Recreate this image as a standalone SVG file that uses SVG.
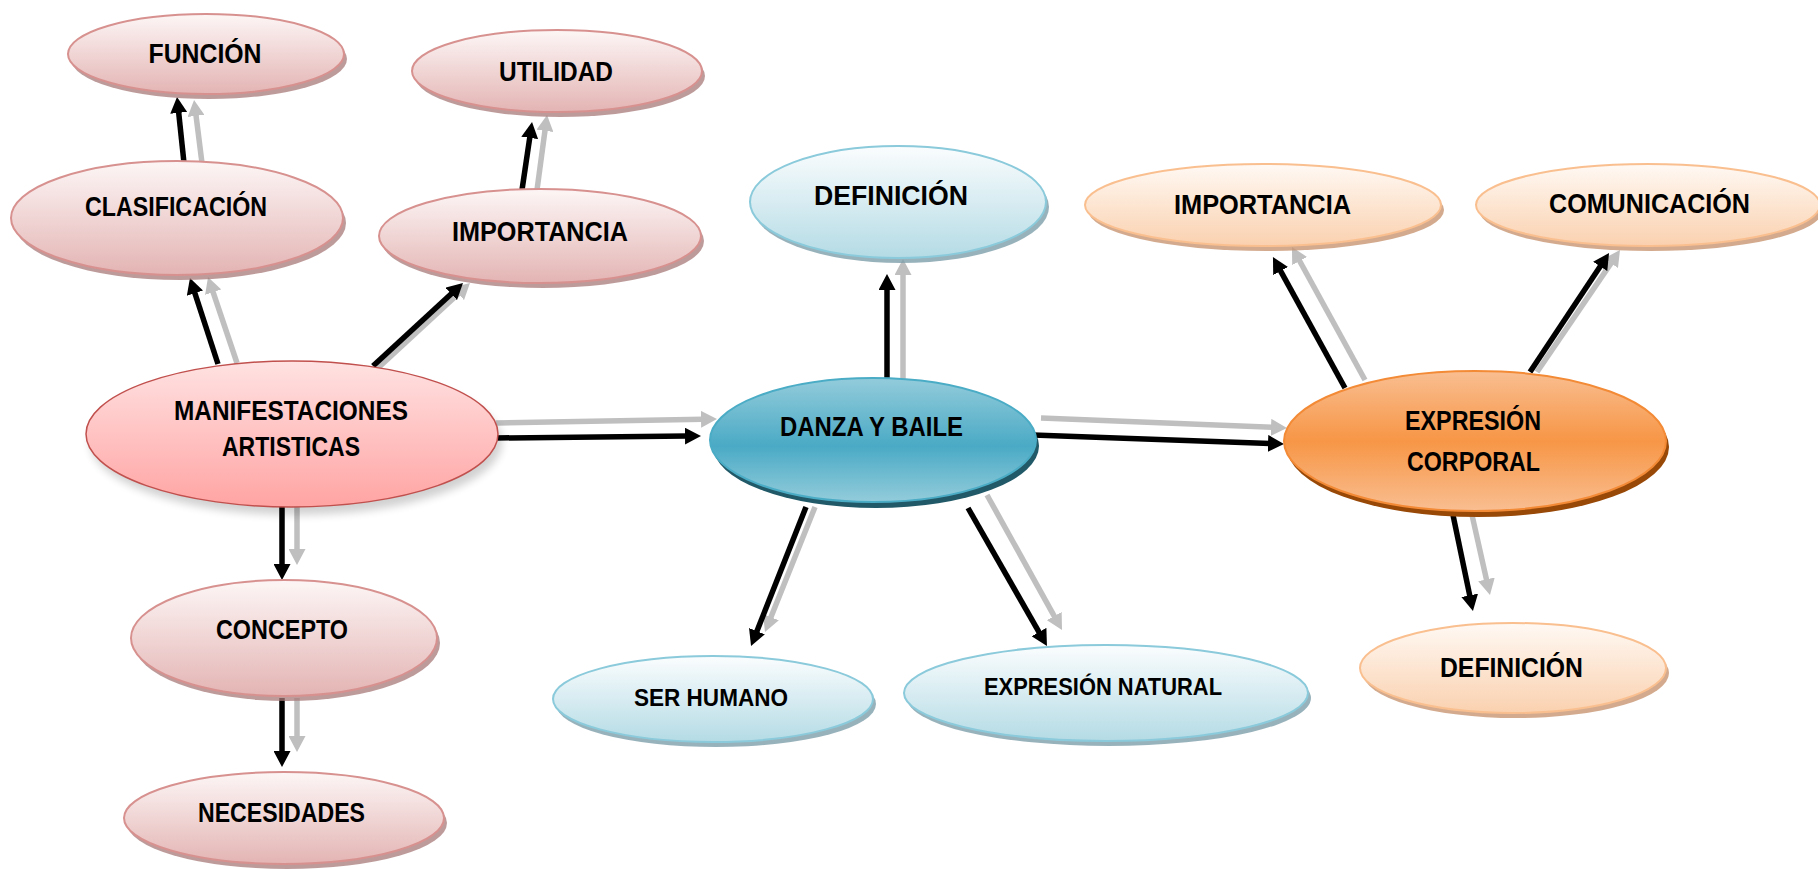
<svg xmlns="http://www.w3.org/2000/svg" width="1818" height="869" viewBox="0 0 1818 869">
<defs>
<linearGradient id="gPinkL" x1="0" y1="0" x2="0" y2="1"><stop offset="0" stop-color="#FDF6F6"/><stop offset="1" stop-color="#E3B4B3"/></linearGradient>
<linearGradient id="gPinkM" x1="0" y1="0" x2="0" y2="1"><stop offset="0" stop-color="#FFE2E2"/><stop offset="1" stop-color="#FFA4A3"/></linearGradient>
<linearGradient id="gBlueL" x1="0" y1="0" x2="0" y2="1"><stop offset="0" stop-color="#FBFDFE"/><stop offset="1" stop-color="#B4DBE5"/></linearGradient>
<linearGradient id="gBlueM" x1="0" y1="0" x2="0" y2="1"><stop offset="0" stop-color="#93CCDB"/><stop offset="0.55" stop-color="#4AAAC5"/><stop offset="1" stop-color="#93CCDB"/></linearGradient>
<linearGradient id="gOrL" x1="0" y1="0" x2="0" y2="1"><stop offset="0" stop-color="#FFF9F4"/><stop offset="1" stop-color="#FAD1AF"/></linearGradient>
<linearGradient id="gOrM" x1="0" y1="0" x2="0" y2="1"><stop offset="0" stop-color="#F9BE91"/><stop offset="0.5" stop-color="#F79646"/><stop offset="1" stop-color="#F9BE91"/></linearGradient>
<filter id="soft" x="-20%" y="-20%" width="140%" height="160%"><feGaussianBlur stdDeviation="4"/></filter>
<marker id="mB" markerUnits="userSpaceOnUse" markerWidth="16" markerHeight="17" viewBox="0 0 16 17" refX="2" refY="8.5" orient="auto"><path d="M0,0 L16,8.5 L0,17 z" fill="#000"/></marker>
<marker id="mG" markerUnits="userSpaceOnUse" markerWidth="16" markerHeight="17" viewBox="0 0 16 17" refX="2" refY="8.5" orient="auto"><path d="M0,0 L16,8.5 L0,17 z" fill="#BFBFBF"/></marker>
</defs>
<style>
.lb{stroke:#000;stroke-width:5.5;fill:none;marker-end:url(#mB)}
.lg{stroke:#BFBFBF;stroke-width:5.5;fill:none;marker-end:url(#mG)}
.t{font-family:"Liberation Sans",Arial,sans-serif;font-weight:bold;font-size:27px;fill:#000;text-anchor:middle}
.ts{font-size:24px}
.pl{fill:url(#gPinkL);stroke:#D7918F;stroke-width:2}
.pls{fill:#A87A7A;opacity:0.75}
.pm{fill:url(#gPinkM);stroke:#C0504D;stroke-width:1.5}
.bl{fill:url(#gBlueL);stroke:#8ACADB;stroke-width:2}
.bls{fill:#7E9FAA;opacity:0.8}
.bm{fill:url(#gBlueM);stroke:#4BACC6;stroke-width:2}
.bms{fill:#215968}
.ol{fill:url(#gOrL);stroke:#FABF8F;stroke-width:2}
.ols{fill:#C89570;opacity:0.8}
.om{fill:url(#gOrM);stroke:#F38A36;stroke-width:2}
.oms{fill:#984807}
</style>
<g id="connectors">
<line class="lg" x1="202" y1="163" x2="195.8" y2="113.9"/>
<line class="lb" x1="184" y1="163" x2="178.5" y2="110.9"/>
<line class="lg" x1="237" y1="363" x2="212.5" y2="290.3"/>
<line class="lb" x1="218" y1="364" x2="194.3" y2="291.3"/>
<line class="lg" x1="378" y1="368" x2="459.7" y2="292.5"/>
<line class="lb" x1="373" y1="366" x2="452.7" y2="292.5"/>
<line class="lg" x1="537" y1="190" x2="545.2" y2="128.9"/>
<line class="lb" x1="522" y1="190" x2="530" y2="135.9"/>
<line class="lg" x1="496" y1="423" x2="703" y2="419.3"/>
<line class="lb" x1="496" y1="438" x2="687" y2="436.1"/>
<line class="lg" x1="297" y1="505" x2="297" y2="551"/>
<line class="lb" x1="282" y1="505" x2="282" y2="566"/>
<line class="lg" x1="297" y1="698" x2="297" y2="738"/>
<line class="lb" x1="282" y1="698" x2="282" y2="753"/>
<line class="lg" x1="903" y1="380" x2="903" y2="273"/>
<line class="lb" x1="887" y1="380" x2="887" y2="288"/>
<line class="lg" x1="1041" y1="418" x2="1273" y2="427.4"/>
<line class="lb" x1="1033" y1="435" x2="1270" y2="443.5"/>
<line class="lg" x1="815" y1="507" x2="770.2" y2="619"/>
<line class="lb" x1="806" y1="507" x2="756.2" y2="633"/>
<line class="lg" x1="987" y1="495" x2="1055.2" y2="617.8"/>
<line class="lb" x1="968" y1="508" x2="1040" y2="633.8"/>
<line class="lg" x1="1365" y1="380" x2="1298.7" y2="259.3"/>
<line class="lb" x1="1345" y1="388" x2="1279.7" y2="269.3"/>
<line class="lg" x1="1537" y1="372" x2="1612.1" y2="261.6"/>
<line class="lb" x1="1530" y1="372" x2="1601.3" y2="264.7"/>
<line class="lg" x1="1472" y1="515" x2="1486.9" y2="581.3"/>
<line class="lb" x1="1453" y1="515" x2="1470.1" y2="597.3"/>
</g>
<g id="funcion"><ellipse class="pls" cx="209" cy="59" rx="138" ry="40"/><ellipse class="pl" cx="206" cy="54" rx="138" ry="40"/><text class="t" x="205" y="63" textLength="113" lengthAdjust="spacingAndGlyphs">FUNCIÓN</text></g>
<g id="utilidad"><ellipse class="pls" cx="560" cy="76" rx="145" ry="41"/><ellipse class="pl" cx="557" cy="71" rx="145" ry="41"/><text class="t" x="556" y="81" textLength="114" lengthAdjust="spacingAndGlyphs">UTILIDAD</text></g>
<g id="clasificacion"><ellipse class="pls" cx="180" cy="223" rx="166" ry="57"/><ellipse class="pl" cx="177" cy="218" rx="166" ry="57"/><text class="t" x="176" y="216" textLength="182" lengthAdjust="spacingAndGlyphs">CLASIFICACIÓN</text></g>
<g id="importancia1"><ellipse class="pls" cx="543" cy="241" rx="161" ry="47"/><ellipse class="pl" cx="540" cy="236" rx="161" ry="47"/><text class="t" x="540" y="241" textLength="176" lengthAdjust="spacingAndGlyphs">IMPORTANCIA</text></g>
<g id="manifestaciones"><ellipse cx="296" cy="442" rx="206" ry="73" fill="#000" opacity="0.18" filter="url(#soft)"/><ellipse class="pm" cx="292" cy="434" rx="206" ry="73"/><text class="t" x="291" y="420" textLength="234" lengthAdjust="spacingAndGlyphs">MANIFESTACIONES</text><text class="t" x="291" y="456" textLength="138" lengthAdjust="spacingAndGlyphs">ARTISTICAS</text></g>
<g id="concepto"><ellipse class="pls" cx="287" cy="643" rx="153" ry="58"/><ellipse class="pl" cx="284" cy="638" rx="153" ry="58"/><text class="t" x="282" y="639" textLength="132" lengthAdjust="spacingAndGlyphs">CONCEPTO</text></g>
<g id="necesidades"><ellipse class="pls" cx="287" cy="823" rx="160" ry="46"/><ellipse class="pl" cx="284" cy="818" rx="160" ry="46"/><text class="t" x="281.5" y="822" textLength="167" lengthAdjust="spacingAndGlyphs">NECESIDADES</text></g>
<g id="definicion1"><ellipse class="bls" cx="901" cy="207" rx="148" ry="56"/><ellipse class="bl" cx="898" cy="202" rx="148" ry="56"/><text class="t" x="891" y="205" textLength="154" lengthAdjust="spacingAndGlyphs">DEFINICIÓN</text></g>
<g id="danza"><ellipse class="bms" cx="876" cy="446" rx="163" ry="62"/><ellipse class="bm" cx="873" cy="440" rx="163" ry="62"/><text class="t" x="871.5" y="436" textLength="183" lengthAdjust="spacingAndGlyphs">DANZA Y BAILE</text></g>
<g id="serhumano"><ellipse class="bls" cx="716" cy="704" rx="160" ry="43"/><ellipse class="bl" cx="713" cy="699" rx="160" ry="43"/><text class="t ts" x="711" y="706" textLength="154" lengthAdjust="spacingAndGlyphs">SER HUMANO</text></g>
<g id="expresionnatural"><ellipse class="bls" cx="1109" cy="698" rx="202" ry="48"/><ellipse class="bl" cx="1106" cy="693" rx="202" ry="48"/><text class="t ts" x="1103" y="695" textLength="238" lengthAdjust="spacingAndGlyphs">EXPRESIÓN NATURAL</text></g>
<g id="importancia2"><ellipse class="ols" cx="1266" cy="210" rx="178" ry="41"/><ellipse class="ol" cx="1263" cy="205" rx="178" ry="41"/><text class="t" x="1262.5" y="214" textLength="177" lengthAdjust="spacingAndGlyphs">IMPORTANCIA</text></g>
<g id="comunicacion"><ellipse class="ols" cx="1651" cy="210" rx="172" ry="41"/><ellipse class="ol" cx="1648" cy="205" rx="172" ry="41"/><text class="t" x="1649.5" y="213" textLength="201" lengthAdjust="spacingAndGlyphs">COMUNICACIÓN</text></g>
<g id="expresioncorporal"><ellipse class="oms" cx="1478" cy="447" rx="191" ry="70"/><ellipse class="om" cx="1475" cy="441" rx="191" ry="70"/><text class="t" x="1473" y="430" textLength="136" lengthAdjust="spacingAndGlyphs">EXPRESIÓN</text><text class="t" x="1473.5" y="471" textLength="133" lengthAdjust="spacingAndGlyphs">CORPORAL</text></g>
<g id="definicion2"><ellipse class="ols" cx="1516" cy="673" rx="153" ry="45"/><ellipse class="ol" cx="1513" cy="668" rx="153" ry="45"/><text class="t" x="1511.5" y="677" textLength="143" lengthAdjust="spacingAndGlyphs">DEFINICIÓN</text></g>
</svg>
